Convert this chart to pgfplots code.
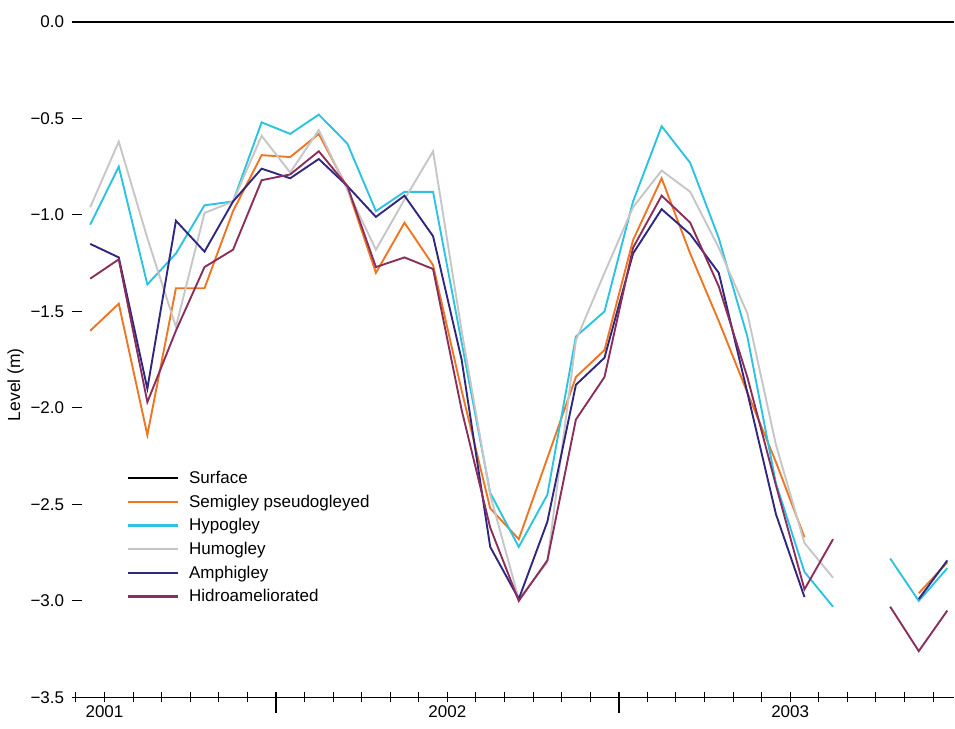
\documentclass[border=0pt]{standalone}
\usepackage{fontspec}
\setmainfont{Liberation Sans}
\usepackage{pgfplots}
\pgfplotsset{compat=1.18}
\usepackage{pgfplotstable}

\definecolor{semi}{HTML}{EE7623}
\definecolor{hypo}{HTML}{2BC3E0}
\definecolor{humo}{HTML}{C6C6C6}
\definecolor{amph}{HTML}{30287E}
\definecolor{hidro}{HTML}{8A2F5C}

\pgfplotstableread{
x semi hypo humo amph hidro
0.5 -1.60 -1.05 -0.96 -1.15 -1.33
1.5 -1.46 -0.75 -0.62 -1.22 -1.23
2.5 -2.14 -1.36 -1.12 -1.90 -1.97
3.5 -1.38 -1.20 -1.58 -1.03 -1.60
4.5 -1.38 -0.95 -0.99 -1.19 -1.27
5.5 -0.98 -0.93 -0.93 -0.93 -1.18
6.5 -0.69 -0.52 -0.59 -0.76 -0.82
7.5 -0.70 -0.58 -0.78 -0.81 -0.79
8.5 -0.58 -0.48 -0.56 -0.71 -0.67
9.5 -0.86 -0.63 -0.87 -0.85 -0.85
10.5 -1.30 -0.98 -1.18 -1.01 -1.27
11.5 -1.04 -0.88 -0.92 -0.90 -1.22
12.5 -1.26 -0.88 -0.67 -1.11 -1.28
13.5 -1.91 -1.66 -1.60 -1.75 -2.01
14.5 -2.52 -2.44 -2.45 -2.72 -2.62
15.5 -2.68 -2.72 -2.99 -2.99 -3.00
16.5 -2.26 -2.45 -2.80 -2.59 -2.79
17.5 -1.84 -1.63 -1.65 -1.88 -2.06
18.5 -1.70 -1.50 -1.30 -1.74 -1.84
19.5 -1.13 -0.93 -0.96 -1.20 -1.17
20.5 -0.81 -0.54 -0.77 -0.97 -0.90
21.5 -1.20 -0.73 -0.88 -1.10 -1.04
22.5 -1.55 -1.12 -1.17 -1.30 -1.37
23.5 -1.92 -1.63 -1.51 -1.92 -1.84
24.5 -2.28 -2.39 -2.19 -2.55 -2.40
25.5 -2.67 -2.85 -2.70 -2.98 -2.94
26.5 nan -3.03 -2.88 nan -2.68
27.5 nan nan nan nan nan
28.5 nan -2.78 nan nan -3.03
29.5 -2.96 -3.00 nan -2.99 -3.26
30.5 -2.80 -2.83 nan -2.79 -3.05
}\data

\begin{document}
\begin{tikzpicture}
\begin{axis}[
  scale only axis, width=883pt, height=676pt,
  xmin=-0.15, xmax=30.73, ymin=-3.5, ymax=0,
  clip=false,
  axis x line*=bottom, axis y line*=left,
  y axis line style={draw=none},
  x axis line style={line width=1.3pt, black},
  xtick={0,2,3,4,5,6,8,9,10,11,12,14,15,16,17,18,20,21,22,23,24,26,27,28,29,30},
  xticklabels={},
  xtick align=center, ytick align=inside,
  major tick length=10pt,
  x tick style={line width=1pt, black},
  y tick style={line width=1pt, black},
  extra x ticks={1,13,25},
  extra x tick labels={2001,2002,2003},
  extra x tick style={tick style={line width=2.4pt, black}},
  ytick={-3.5,-3,-2.5,-2,-1.5,-1,-0.5,0},
  yticklabels={−3.5,−3.0,−2.5,−2.0,−1.5,−1.0,−0.5,0.0},
  tick label style={font=\fontsize{17}{20}\selectfont},
  yticklabel style={xshift=-4pt},
  ylabel={Level (m)},
  ylabel style={font=\fontsize{17.5}{20}\selectfont, at={(ticklabel cs:0.463)}},
  unbounded coords=jump,
  legend style={at={(0.0605,0.3412)}, anchor=north west, draw=none, fill=none,
    font=\fontsize{17}{20}\selectfont, row sep=5.9pt, column sep=9pt},
  legend cell align=left,
  legend image code/.code={\path[#1, draw=none, fill] (0pt,-1.1pt) rectangle (50pt,1.1pt);},
  every axis plot/.append style={line width=1.9pt},
]
\addplot[black, line width=2.2pt] coordinates {(-0.15,0) (30.73,0)};
\addlegendentry{Surface}
\addplot[semi] table[x=x, y=semi] {\data};
\addlegendentry{Semigley pseudogleyed}
\addplot[hypo] table[x=x, y=hypo] {\data};
\addlegendentry{Hypogley}
\addplot[humo] table[x=x, y=humo] {\data};
\addlegendentry{Humogley}
\addplot[amph] table[x=x, y=amph] {\data};
\addlegendentry{Amphigley}
\addplot[hidro] table[x=x, y=hidro] {\data};
\addlegendentry{Hidroameliorated}
\draw[line width=2.2pt] ([yshift=5pt]axis cs:7,-3.5) -- ([yshift=-16pt]axis cs:7,-3.5);
\draw[line width=2.2pt] ([yshift=5pt]axis cs:19,-3.5) -- ([yshift=-16pt]axis cs:19,-3.5);
\coordinate (o) at (rel axis cs:0,0);
\end{axis}
\path ([xshift=-71.7pt,yshift=-31pt]o) rectangle ([xshift=883.3pt,yshift=698pt]o);
\end{tikzpicture}
\end{document}
